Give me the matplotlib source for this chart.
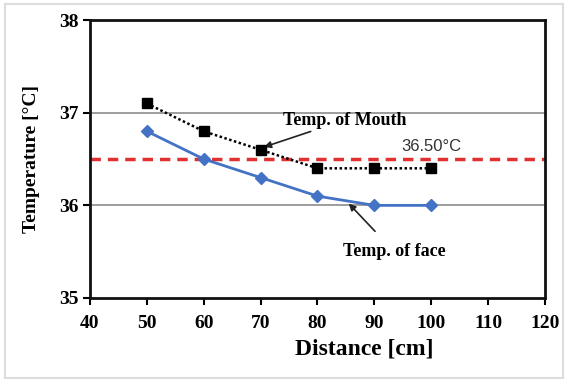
import matplotlib
matplotlib.use("Agg")
import matplotlib.pyplot as plt
from matplotlib.patches import Rectangle

distance = [50, 60, 70, 80, 90, 100]
temp_mouth = [37.1, 36.8, 36.6, 36.4, 36.4, 36.4]
temp_face = [36.8, 36.5, 36.3, 36.1, 36.0, 36.0]
threshold = 36.5
x_ticks = [40, 50, 60, 70, 80, 90, 100, 110, 120]
y_ticks = [35, 36, 37, 38]

plt.rcParams['font.family'] = ['Liberation Serif', 'DejaVu Serif']

fig = plt.figure(figsize=(5.67, 3.80), dpi=100)
fig.patches.append(Rectangle((0.008, 0.005), 0.985, 0.985, transform=fig.transFigure,
                             fill=False, edgecolor='#dddddd', linewidth=1.5))
ax = fig.add_axes([0.1587, 0.2158, 0.8025, 0.7312])

for y in [36, 37]:
    ax.axhline(y, color='#8c8c8c', linewidth=1.2, zorder=1)

ax.axhline(threshold, color='#e03030', linewidth=2.5, linestyle=(0, (3, 2)), zorder=2)

ax.plot(distance, temp_face, color='#4472c4', linewidth=2, marker='D',
        markersize=6, zorder=3)
ax.plot(distance, temp_mouth, color='black', linewidth=1.8, linestyle=(0, (1, 1)),
        marker='s', markersize=7, zorder=4)

ax.set_xlim(40, 120)
ax.set_ylim(35, 38)
ax.set_xticks(x_ticks)
ax.set_yticks(y_ticks)
ax.tick_params(direction='out', length=5, width=1.5, labelsize=14)
ax.tick_params(axis='x', pad=7)
ax.tick_params(axis='y', pad=3)
for lab in ax.get_xticklabels() + ax.get_yticklabels():
    lab.set_fontweight('bold')
for s in ax.spines.values():
    s.set_linewidth(2)
    s.set_color('#111111')

ax.set_xlabel('Distance [cm]', fontsize=17, fontweight='bold', labelpad=5, x=0.602)
ax.set_ylabel('Temperature [\u00b0C]', fontsize=14, fontweight='bold', labelpad=14)

ax.text(100, threshold + 0.05, '36.50\u00b0C', fontsize=12, ha='center', va='bottom',
        family=['Liberation Sans', 'DejaVu Sans'], color='#333333')

ax.annotate('Temp. of Mouth', xy=(70.6, 36.63), xytext=(73.9, 36.92),
            fontsize=13, fontweight='bold', ha='left', va='center',
            arrowprops=dict(arrowstyle='-|>', color='#222222', lw=1.2,
                            mutation_scale=10, shrinkA=0, shrinkB=0))
ax.annotate('Temp. of face', xy=(85.5, 36.02), xytext=(93.5, 35.5),
            fontsize=13, fontweight='bold', ha='center', va='center',
            arrowprops=dict(arrowstyle='-|>', color='#222222', lw=1.2,
                            mutation_scale=10, shrinkA=9, shrinkB=0))

fig.savefig('out.png', dpi=100)
